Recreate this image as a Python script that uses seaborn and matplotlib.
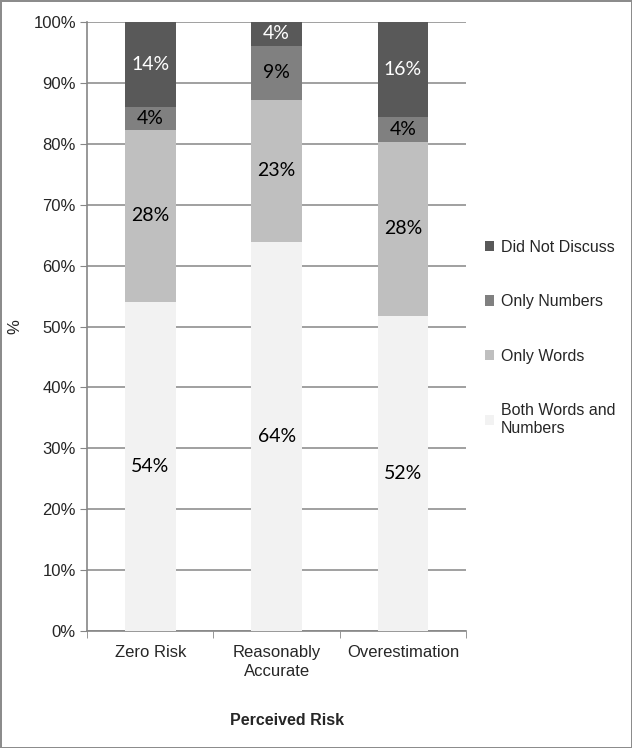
import numpy as np
import pandas as pd
import matplotlib.pyplot as plt
import seaborn as sns
from matplotlib.patches import Patch

# Data (% of respondents)
categories = ["Zero Risk", "Reasonably\nAccurate", "Overestimation"]
both_words_numbers = [54.0, 63.9, 51.8]
only_words = [28.3, 23.3, 28.5]
only_numbers = [3.8, 8.9, 4.1]
did_not_discuss = [13.9, 3.9, 15.6]

series_names = ["Both Words and\nNumbers", "Only Words", "Only Numbers", "Did Not Discuss"]
series_vals = [both_words_numbers, only_words, only_numbers, did_not_discuss]
colors = ["#f2f2f2", "#bfbfbf", "#808080", "#595959"]
text_colors = ["black", "black", "black", "white"]

sns.set_style("white")
plt.rcParams["font.family"] = ["Liberation Sans", "DejaVu Sans"]

df = pd.DataFrame({"cat": categories})
cum = np.cumsum(np.array(series_vals), axis=0)

fig = plt.figure(figsize=(6.32, 7.48), dpi=100)
ax = fig.add_axes([0.1377, 0.1564, 0.600, 0.8142])

# stacking: draw cumulative totals from the top segment down
for i in range(len(series_names) - 1, -1, -1):
    df["v"] = cum[i]
    sns.barplot(data=df, x="cat", y="v", color=colors[i], saturation=1,
                width=0.4, ax=ax, zorder=3, linewidth=0)

# segment labels
for i in range(len(series_names)):
    for j in range(len(categories)):
        h = series_vals[i][j]
        mid = cum[i][j] - h / 2
        ax.text(j, mid, f"{h:.0f}%", ha="center", va="center", fontsize=14,
                color=text_colors[i], family=["Lato", "DejaVu Sans"], zorder=4)

ax.set_ylim(0, 100)
ax.set_xlim(-0.5, 2.5)
ax.set_yticks(range(0, 101, 10))
ax.set_yticklabels([f"{t}%" for t in range(0, 101, 10)], fontsize=12)
ax.tick_params(axis="y", direction="out", length=5, color="#868686", left=True, pad=3)
ax.set_xticks(range(3))
ax.set_xticklabels(categories, fontsize=12, linespacing=1.3)
ax.set_xticks([-0.5, 0.5, 1.5, 2.5], minor=True)
ax.tick_params(axis="x", which="major", length=0, pad=10)
ax.tick_params(axis="x", which="minor", direction="out", length=5, color="#868686", bottom=True)
ax.yaxis.grid(True, color="#868686", linewidth=1.1, zorder=0)
ax.set_axisbelow(True)
for s in ["top", "right"]:
    ax.spines[s].set_visible(False)
for s in ["left", "bottom"]:
    ax.spines[s].set_color("#868686")
    ax.spines[s].set_linewidth(1.2)

ax.set_ylabel("%", fontsize=12)
ax.yaxis.set_label_coords(-0.17, 0.5)
ax.set_xlabel("Perceived Risk", fontsize=11.5, fontweight="bold")
ax.xaxis.set_label_coords(0.528, -0.134)

handles = [Patch(facecolor=colors[i], edgecolor="none") for i in range(3, -1, -1)]
labels = [series_names[i] for i in range(3, -1, -1)]
fig.legend(handles, labels, loc="upper left", bbox_to_anchor=(0.744, 0.699),
           frameon=False, fontsize=11.5, handlelength=0.6, handleheight=0.6,
           handletextpad=0.4, labelspacing=2.48)

fig.patch.set_edgecolor("#8c8c8c")
fig.patch.set_linewidth(2)
fig.savefig("out.png", dpi=100, edgecolor=fig.get_edgecolor())
